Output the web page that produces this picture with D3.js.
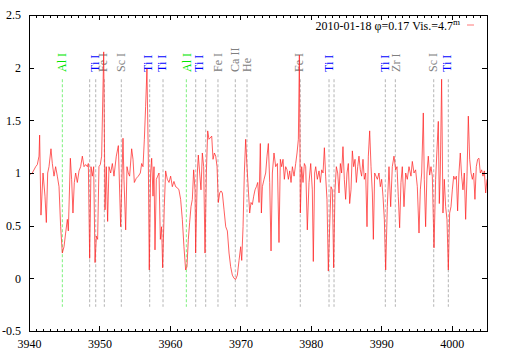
<!DOCTYPE html>
<html>
<head>
<meta charset="utf-8">
<script src="https://cdn.jsdelivr.net/npm/d3@7"></script>
<style>
	body { margin: 0; background: #fff; }
	svg { display: block; }
	text { font-family: "Liberation Serif", "DejaVu Serif", serif; }
</style>
</head>
<body>
<div id="graph"></div>
<script>
//spectrum around Ca II H, 2010-01-18

//wavelength (angstrom) of each sample
var wave = [
	3940.00, 3940.47, 3940.95, 3941.18, 3941.42, 3941.51, 3941.70, 3941.99, 3942.27, 3942.46,
	3942.65, 3942.84, 3943.12, 3943.31, 3943.55, 3943.78, 3944.02, 3944.26, 3944.49, 3944.73,
	3944.97, 3945.20, 3945.44, 3945.58, 3945.87, 3946.05, 3946.24, 3946.43, 3946.62, 3946.86,
	3947.10, 3947.33, 3947.57, 3947.81, 3948.04, 3948.28, 3948.42, 3948.61, 3948.80, 3948.99,
	3949.18, 3949.37, 3949.56, 3949.74, 3949.93, 3950.12, 3950.31, 3950.60, 3950.79, 3950.97,
	3951.16, 3951.35, 3951.59, 3951.83, 3952.06, 3952.39, 3952.68,
	3953.01, 3953.34, 3953.48, 3953.72, 3953.91, 3954.09, 3954.28, 3954.57, 3954.76, 3954.95,
	3955.23, 3955.51, 3955.80, 3955.99, 3956.18, 3956.37, 3956.55, 3956.74, 3956.93, 3957.07,
	3957.26, 3957.41, 3957.60, 3957.74, 3957.88, 3958.07, 3958.26, 3958.45, 3958.64, 3958.82,
	3958.97, 3959.20, 3959.39, 3959.63, 3959.87, 3960.10, 3960.34, 3960.57, 3960.81, 3961.05,
	3961.28, 3961.52, 3961.76, 3961.99, 3962.23, 3962.42, 3962.61, 3962.80, 3962.99, 3963.18,
	3963.37, 3963.56, 3963.65, 3963.89, 3964.03, 3964.22, 3964.41, 3964.60, 3964.79, 3964.98,
	3965.17, 3965.36, 3965.54,
	3965.93, 3966.12, 3966.31, 3966.50, 3966.69, 3966.87, 3967.06, 3967.25, 3967.44, 3967.68,
	3967.92, 3968.15, 3968.39, 3968.62, 3968.86, 3969.10, 3969.33, 3969.57, 3969.81, 3970.04,
	3970.19, 3970.38, 3970.56, 3970.75, 3970.94, 3971.13, 3971.32, 3971.51, 3971.70, 3971.89,
	3972.08, 3972.27, 3972.46, 3972.65, 3972.83, 3972.98, 3973.12, 3973.36, 3973.59, 3973.78,
	3973.97, 3974.16, 3974.35, 3974.54, 3974.77, 3975.01, 3975.25, 3975.48, 3975.67, 3975.86,
	3976.05, 3976.24, 3976.43, 3976.62, 3976.81, 3977.00, 3977.19, 3977.38, 3977.62, 3977.85,
	3978.04, 3978.23, 3978.37, 3978.51,
	3978.70, 3978.89, 3979.08, 3979.27, 3979.50, 3979.74, 3979.98, 3980.21, 3980.35, 3980.54,
	3980.69, 3980.92, 3981.16, 3981.35, 3981.54, 3981.73, 3981.92, 3982.10, 3982.29, 3982.48,
	3982.67, 3982.86, 3983.05, 3983.24, 3983.43, 3983.62, 3983.81, 3984.00, 3984.19, 3984.37,
	3984.56, 3984.75, 3984.94, 3985.13, 3985.32, 3985.51, 3985.70, 3985.89, 3986.08, 3986.27,
	3986.46, 3986.65, 3986.83, 3987.02, 3987.21, 3987.40, 3987.59, 3987.78, 3987.97, 3988.16,
	3988.35, 3988.54, 3988.73, 3988.87, 3989.06, 3989.25, 3989.44, 3989.67, 3989.86, 3990.05,
	3990.24, 3990.43, 3990.62, 3990.85, 3991.09,
	3991.33, 3991.56, 3991.80, 3992.04, 3992.23, 3992.41, 3992.60, 3992.79, 3992.98, 3993.22,
	3993.46, 3993.69, 3993.93, 3994.21, 3994.40, 3994.64, 3994.87, 3995.11, 3995.35, 3995.54,
	3995.73, 3995.96, 3996.10, 3996.29, 3996.48, 3996.67, 3996.86, 3997.05, 3997.24, 3997.48,
	3997.71, 3997.90, 3998.09, 3998.23, 3998.37, 3998.56, 3998.75, 3998.94, 3999.13, 3999.32,
	3999.51, 3999.70, 3999.89, 4000.08, 4000.27, 4000.46, 4000.65, 4000.83, 4001.02, 4001.21,
	4001.40, 4001.59, 4001.78, 4001.97, 4002.16, 4002.35, 4002.54, 4002.73, 4002.92, 4003.10,
	4003.29, 4003.48, 4003.67, 4003.86, 4004.05, 4004.24, 4004.43, 4004.62, 4004.81, 4005.00
];

//normalised flux for each wavelength above
var flux = [
	0.98, 1.00, 1.06, 1.08, 1.16, 1.36, 0.60, 1.00, 0.78, 0.53,
	1.00, 1.06, 1.23, 1.09, 0.97, 1.06, 0.97, 0.87, 0.49, 0.24,
	0.30, 0.43, 0.56, 0.45, 1.14, 0.94, 0.62, 0.91, 1.00, 0.91,
	1.02, 1.06, 1.16, 1.06, 1.08, 1.06, 1.09, 0.19, 1.06, 0.97,
	1.06, 0.15, 0.40, 0.37, 1.06, 1.08, 1.16, 2.15, 0.65, 1.06,
	0.54, 1.06, 1.00, 1.09, 0.97, 1.16, 1.26,
	0.49, 1.33, 0.94, 0.46, 1.06, 1.00, 0.97, 1.23, 1.13, 0.91,
	0.95, 0.97, 1.00, 1.09, 1.06, 1.32, 1.63, 1.99, 1.16, 0.08,
	1.00, 1.14, 0.78, 1.06, 0.27, 0.94, 0.97, 1.00, 0.37, 0.49,
	0.10, 0.68, 1.02, 0.94, 0.91, 0.97, 0.87, 0.92, 0.87, 0.86,
	0.84, 0.75, 0.56, 0.30, 0.08, 0.11, 0.37, 0.53, 0.68, 0.75,
	1.03, 0.84, 0.24, 1.00, 1.17, 1.00, 0.84, 1.19, 1.06, 0.24,
	1.00, 1.40, 1.32,
	1.35, 1.13, 1.19, 1.16, 1.06, 0.72, 0.81, 0.83, 0.81, 0.65,
	0.49, 0.45, 0.24, 0.11, 0.03, 0.00, -0.01, 0.03, 0.17, 0.30,
	0.17, 0.49, 1.00, 1.32, 1.06, 0.84, 0.62, 0.72, 0.70, 0.78,
	0.84, 0.87, 0.91, 0.72, 1.28, 0.62, 0.87, 0.94, 1.00, 1.16,
	1.28, 0.91, 0.26, 1.00, 1.19, 1.06, 1.09, 0.34, 1.13, 1.06,
	1.13, 0.94, 1.06, 1.03, 0.94, 1.02, 0.91, 1.06, 0.97, 1.09,
	1.19, 1.32, 2.12, 0.62,
	1.06, 0.91, 1.09, 1.06, 0.46, 0.91, 1.09, 0.84, 0.16, 1.00,
	1.06, 0.94, 1.02, 0.91, 1.03, 1.00, 1.24, 0.97, 0.75, 0.07,
	0.49, 0.87, 0.84, 0.10, 0.84, 1.06, 1.00, 0.81, 1.09, 1.00,
	1.25, 0.94, 0.75, 1.00, 1.09, 0.71, 0.84, 1.21, 1.06, 1.13,
	0.91, 1.06, 1.16, 1.03, 0.97, 1.13, 0.94, 1.00, 0.49, 1.16,
	1.40, 1.06, 0.81, 0.37, 1.00, 0.97, 0.94, 1.00, 0.87, 0.94,
	0.78, 0.56, 0.08, 0.68, 1.06,
	0.68, 1.06, 1.16, 1.03, 1.06, 0.78, 0.48, 0.91, 1.06, 0.68,
	1.00, 0.94, 1.06, 0.97, 1.11, 1.00, 1.03, 0.87, 0.43, 0.84,
	1.00, 1.57, 0.94, 0.49, 1.00, 1.16, 0.98, 1.06, 0.97, 0.29,
	0.94, 1.22, 1.49, 0.71, 1.00, 1.89, 0.62, 0.94, 0.68, 0.56,
	0.08, 0.62, 0.68, 0.84, 0.97, 0.94, 0.97, 0.64, 1.00, 1.19,
	0.97, 0.84, 1.00, 0.56, 0.97, 1.54, 1.13, 1.00, 0.94, 1.00,
	0.75, 1.06, 1.13, 1.14, 1.00, 1.03, 0.97, 1.02, 0.81, 0.94
];

//dashed marker lines: wavelength and whether it is an Al line (green)
var lineWave = [3944.73, 3948.61, 3949.47, 3950.69, 3953.10, 3957.13, 3959.02, 3962.33, 3963.66, 3965.08,
	3966.82, 3969.28, 3970.94, 3978.50, 3982.58, 3983.29, 3990.57, 3991.99, 3997.44, 3999.51];
var lineGreen = [true, false, false, false, false, false, false, true, false, false,
	false, false, false, false, false, false, false, false, false, false];

//labels above the marker lines
var labelWave = [3944.68, 3949.34, 3950.53, 3953.06, 3956.92, 3958.85, 3962.35, 3964.13, 3966.80, 3969.26,
	3970.87, 3978.32, 3982.53, 3990.52, 3991.99, 3997.31, 3999.33];
var labelText = ["Al I", "Ti I", "Fe I", "Sc I", "Ti I", "Ti I", "Al I", "Ti I", "Fe I", "Ca II",
	"He", "Fe I", "Ti I", "Ti I", "Zr I", "Sc I", "Ti I"];
var labelColor = { "Al I": "#00e600", "Ti I": "#0000ff" };

var xTicks = [3940, 3950, 3960, 3970, 3980, 3990, 4000];
var yTicks = [-0.5, 0, 0.5, 1, 1.5, 2, 2.5];
var yTickLabels = ["-0.5", "0", "0.5", "1", "1.5", "2", "2.5"];

(function(){
	"use strict";

	var margin = {top: 15, right: 22, bottom: 25, left: 29};
	var width = 509 - margin.left - margin.right;
	var height = 356 - margin.top - margin.bottom;

	var svg = d3.select("#graph").append("svg")
		.attr("width", 509)
		.attr("height", 356);
	var g = svg.append("g").attr("transform", "translate(" + margin.left + "," + margin.top + ")");

	var x = d3.scaleLinear().domain([3940, 4005]).range([0, width]);
	var y = d3.scaleLinear().domain([-0.5, 2.5]).range([height, 0]);

	svg.append("clipPath").attr("id", "plot")
		.append("rect").attr("width", width).attr("height", height);

	//dashed marker lines
	g.selectAll(".marker")
		.data(lineWave)
		.enter().append("line")
		.attr("class", "marker")
		.attr("x1", function(d) { return x(d); })
		.attr("x2", function(d) { return x(d); })
		.attr("y1", y(1.89))
		.attr("y2", y(-0.27))
		.attr("stroke", function(d, i) { return lineGreen[i] ? "#7cf07c" : "#b4b4b4"; })
		.attr("stroke-width", 1)
		.attr("stroke-dasharray", "3,2");

	//rotated element labels
	g.selectAll(".label")
		.data(labelWave)
		.enter().append("text")
		.attr("class", "label")
		.attr("transform", function(d) { return "translate(" + x(d) + "," + y(1.96) + ") rotate(-90)"; })
		.attr("dy", "0.35em")
		.attr("font-size", "12px")
		.attr("fill", function(d, i) { return labelColor[labelText[i]] || "#808080"; })
		.text(function(d, i) { return labelText[i]; });

	//the spectrum itself
	var pts = wave.map(function(w, i) { return [w, flux[i]]; });
	var line = d3.line()
		.x(function(d) { return x(d[0]); })
		.y(function(d) { return y(d[1]); });

	g.append("path")
		.datum(pts)
		.attr("clip-path", "url(#plot)")
		.attr("fill", "none")
		.attr("stroke", "#ff2020")
		.attr("stroke-opacity", 0.8)
		.attr("stroke-width", 0.9)
		.attr("stroke-linejoin", "round")
		.attr("d", line);

	//axes, ticks point inwards like gnuplot
	var minor = d3.range(3940, 4006);
	function styleAxis(sel) {
		sel.select(".domain").remove();
		sel.selectAll("line").attr("stroke", "#000").attr("shape-rendering", "crispEdges");
		sel.selectAll("text").attr("font-size", "12px").attr("fill", "#000")
			.style("font-family", "'Liberation Serif', 'DejaVu Serif', serif");
	}

	g.append("g").attr("transform", "translate(0," + height + ")")
		.call(d3.axisBottom(x).tickValues(minor).tickSize(-2.5).tickFormat(""))
		.call(styleAxis);
	g.append("g").attr("transform", "translate(0," + height + ")")
		.call(d3.axisBottom(x).tickValues(xTicks).tickSize(-5).tickPadding(8).tickFormat(function(d) { return String(d); }))
		.call(styleAxis);
	g.append("g")
		.call(d3.axisTop(x).tickValues(minor).tickSize(-2.5).tickFormat(""))
		.call(styleAxis);
	g.append("g")
		.call(d3.axisTop(x).tickValues(xTicks).tickSize(-5).tickFormat(""))
		.call(styleAxis);
	g.append("g")
		.call(d3.axisLeft(y).tickValues(yTicks).tickSize(-5).tickPadding(8).tickFormat(function(d, i) { return yTickLabels[i]; }))
		.call(styleAxis);
	g.append("g").attr("transform", "translate(" + width + ",0)")
		.call(d3.axisRight(y).tickValues(yTicks).tickSize(-5).tickFormat(""))
		.call(styleAxis);

	//frame
	g.append("rect")
		.attr("width", width)
		.attr("height", height)
		.attr("fill", "none")
		.attr("stroke", "#000")
		.attr("shape-rendering", "crispEdges");

	//key in the top right corner
	var key = g.append("text")
		.attr("x", 431)
		.attr("y", 15)
		.attr("text-anchor", "end")
		.attr("font-size", "12px")
		.attr("fill", "#000");
	key.append("tspan").text("2010-01-18 \u03c6=0.17 Vis.=4.7");
	key.append("tspan").attr("dy", -5).attr("font-size", "9px").text("m");

	g.append("line")
		.attr("x1", 438).attr("x2", 445)
		.attr("y1", 10).attr("y2", 10)
		.attr("stroke", "#ff2020")
		.attr("stroke-opacity", 0.6);
})();
</script>
</body>
</html>
